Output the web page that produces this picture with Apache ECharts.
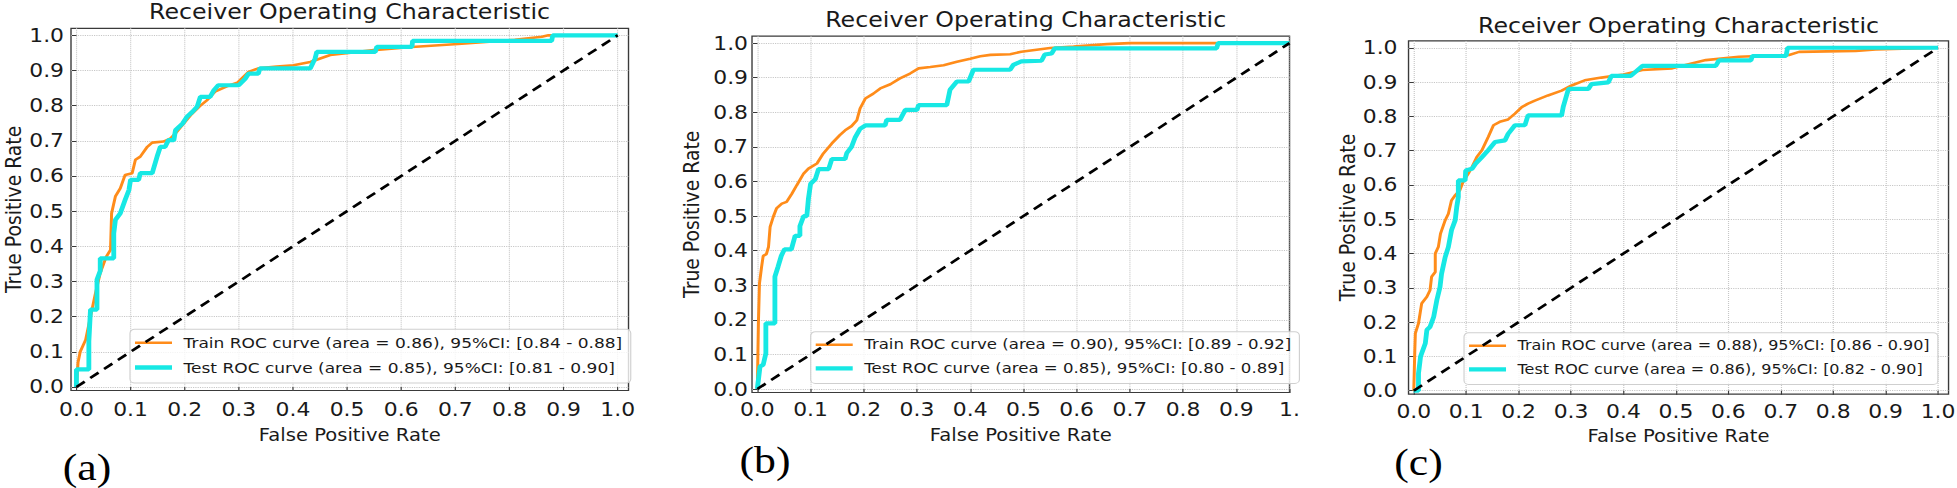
<!DOCTYPE html>
<html>
<head>
<meta charset="utf-8">
<script src="https://cdn.jsdelivr.net/npm/echarts@6.0.0/dist/echarts.min.js"></script>
<style>
  html, body { margin: 0; padding: 0; background: #fff; overflow: hidden; }
  /* the source figure is stretched sideways, so lay out narrower and widen */
  #chart { width: 1700px; height: 488px; transform: scaleX(1.1512); transform-origin: 0 0; }
</style>
</head>
<body>
<div id="chart"></div>
<script>
const S = 1957 / 1700;
const X = v => v / S;

const tickValues = [0, 0.1, 0.2, 0.3, 0.4, 0.5, 0.6, 0.7, 0.8, 0.9, 1.0];
const titleText = 'Receiver Operating Characteristic';
const xName = 'False Positive Rate';
const yName = 'True Positive Rate';
const panelTags = ['(a)', '(b)', '(c)'];
const trainLabels = [
  'Train ROC curve (area = 0.86), 95%CI: [0.84 - 0.88]',
  'Train ROC curve (area = 0.90), 95%CI: [0.89 - 0.92]',
  'Train ROC curve (area = 0.88), 95%CI: [0.86 - 0.90]'
];
const testLabels = [
  'Test ROC curve (area = 0.85), 95%CI: [0.81 - 0.90]',
  'Test ROC curve (area = 0.85), 95%CI: [0.80 - 0.89]',
  'Test ROC curve (area = 0.86), 95%CI: [0.82 - 0.90]'
];
const chance = [[0, 0], [1, 1]];

// [fpr, tpr]
const trainA = [[0,0],[0.003,0.07],[0.007,0.1],[0.017,0.134],[0.026,0.2],[0.035,0.265],[0.044,0.324],[0.055,0.37],[0.063,0.39],
  [0.065,0.494],[0.072,0.542],[0.081,0.565],[0.09,0.603],[0.103,0.608],[0.109,0.646],[0.118,0.655],[0.131,0.683],[0.14,0.695],
  [0.161,0.698],[0.174,0.707],[0.183,0.721],[0.196,0.745],[0.211,0.773],[0.229,0.8],[0.241,0.815],[0.257,0.841],[0.278,0.855],
  [0.297,0.865],[0.318,0.896],[0.336,0.906],[0.37,0.911],[0.401,0.915],[0.432,0.924],[0.469,0.944],[0.549,0.958],[0.62,0.967],
  [0.712,0.976],[0.81,0.987],[0.86,0.996],[0.872,1.0],[1,1]];
const testA = [[0,0],[0,0.05],[0.023,0.05],[0.023,0.13],[0.026,0.22],[0.038,0.22],[0.038,0.305],[0.044,0.33],[0.044,0.366],
  [0.069,0.366],[0.069,0.437],[0.072,0.475],[0.081,0.494],[0.09,0.532],[0.097,0.56],[0.1,0.589],[0.115,0.589],[0.118,0.608],
  [0.14,0.608],[0.149,0.655],[0.155,0.683],[0.164,0.683],[0.17,0.702],[0.18,0.702],[0.183,0.73],[0.196,0.749],[0.204,0.768],
  [0.214,0.782],[0.223,0.797],[0.229,0.825],[0.247,0.825],[0.254,0.844],[0.262,0.858],[0.3,0.858],[0.312,0.877],[0.318,0.891],
  [0.336,0.891],[0.339,0.906],[0.432,0.906],[0.441,0.934],[0.444,0.953],[0.552,0.953],[0.555,0.967],[0.62,0.967],[0.621,0.984],
  [0.878,0.984],[0.88,1.0],[1,1]];
const trainB = [[0,0],[0.002,0.19],[0.004,0.305],[0.008,0.353],[0.011,0.385],[0.017,0.39],[0.021,0.411],[0.024,0.469],[0.03,0.498],
  [0.036,0.522],[0.046,0.536],[0.055,0.541],[0.065,0.565],[0.074,0.589],[0.087,0.623],[0.096,0.637],[0.112,0.652],[0.124,0.681],
  [0.14,0.71],[0.155,0.734],[0.165,0.748],[0.177,0.76],[0.187,0.777],[0.193,0.811],[0.203,0.84],[0.218,0.854],[0.231,0.869],
  [0.25,0.881],[0.268,0.898],[0.287,0.912],[0.303,0.927],[0.325,0.931],[0.35,0.936],[0.375,0.946],[0.4,0.955],[0.419,0.962],
  [0.438,0.966],[0.475,0.968],[0.496,0.975],[0.55,0.986],[0.594,0.99],[0.657,0.997],[0.7,1.0],[1,1]];
const testB = [[0,0],[0.005,0.065],[0.011,0.07],[0.016,0.103],[0.016,0.19],[0.033,0.19],[0.033,0.325],[0.039,0.354],[0.045,0.385],
  [0.051,0.404],[0.064,0.404],[0.071,0.443],[0.08,0.443],[0.08,0.471],[0.087,0.5],[0.093,0.5],[0.096,0.55],[0.1,0.593],
  [0.109,0.607],[0.115,0.636],[0.134,0.636],[0.14,0.665],[0.165,0.665],[0.168,0.682],[0.177,0.7],[0.184,0.728],[0.193,0.752],
  [0.203,0.762],[0.24,0.762],[0.243,0.778],[0.268,0.778],[0.278,0.807],[0.3,0.807],[0.303,0.821],[0.356,0.821],[0.362,0.865],
  [0.375,0.889],[0.397,0.889],[0.406,0.923],[0.475,0.923],[0.481,0.937],[0.496,0.947],[0.534,0.949],[0.54,0.967],[0.553,0.97],
  [0.559,0.985],[0.863,0.985],[0.866,1.0],[1,1]];
const trainC = [[0,0],[0.002,0.119],[0.003,0.167],[0.009,0.196],[0.015,0.254],[0.025,0.274],[0.031,0.293],[0.034,0.332],
  [0.041,0.346],[0.041,0.4],[0.047,0.42],[0.051,0.458],[0.06,0.497],[0.066,0.516],[0.072,0.555],[0.079,0.57],[0.088,0.585],
  [0.094,0.609],[0.104,0.633],[0.111,0.652],[0.12,0.681],[0.13,0.701],[0.142,0.74],[0.152,0.774],[0.164,0.784],[0.18,0.791],
  [0.193,0.808],[0.206,0.827],[0.218,0.837],[0.231,0.846],[0.256,0.861],[0.282,0.875],[0.301,0.89],[0.326,0.905],[0.358,0.913],
  [0.4,0.922],[0.436,0.935],[0.493,0.94],[0.557,0.964],[0.62,0.974],[0.716,0.979],[0.735,0.988],[0.843,0.991],[0.881,0.995],[1,1]];
const testC = [[0,0],[0.009,0],[0.009,0.05],[0.013,0.1],[0.022,0.138],[0.025,0.177],[0.031,0.186],[0.038,0.215],[0.044,0.264],
  [0.05,0.302],[0.053,0.341],[0.06,0.39],[0.066,0.419],[0.072,0.468],[0.079,0.497],[0.082,0.536],[0.085,0.565],[0.085,0.613],
  [0.098,0.613],[0.099,0.642],[0.111,0.647],[0.118,0.662],[0.13,0.681],[0.142,0.701],[0.155,0.725],[0.174,0.73],[0.18,0.749],
  [0.193,0.774],[0.212,0.774],[0.218,0.803],[0.282,0.803],[0.285,0.827],[0.295,0.88],[0.333,0.88],[0.339,0.894],[0.371,0.899],
  [0.377,0.918],[0.414,0.918],[0.436,0.947],[0.576,0.947],[0.582,0.963],[0.643,0.963],[0.646,0.976],[0.71,0.976],[0.713,1.0],[1,1]];

const trainCurves = [trainA, trainB, trainC];
const testCurves = [testA, testB, testC];

const ORANGE = '#ff8c1a';
const CYAN = '#17e8e4';
const INK = '#1a1a1a';
const FONT = 'DejaVu Sans';
const TRAIN_ICON = 'path://M0 0H37V3H0Z';
const TEST_ICON = 'path://M0 0H37V5H0Z';

// panel boxes in page pixels (before the sideways stretch is undone)
const panels = [
  { L: 71, R: 628.5, T: 28.3, B: 390.5, xMax: 1.02, titleX: 349.5, titleY: 12, tagX: 87, tagY: 467,
    legL: 130, legT: 329.3, legFont: 14.8, xLabelGap: 10, yLabelGap: 7, xNameGap: 36, yNameGap: 46 },
  { L: 752, R: 1289.5, T: 36.2, B: 392.5, xMax: 1.0, titleX: 1025.7, titleY: 20, tagX: 765, tagY: 460,
    legL: 810.7, legT: 331.7, legFont: 14.4, xLabelGap: 8, yLabelGap: 4, xNameGap: 34, yNameGap: 50 },
  { L: 1408.5, R: 1948.5, T: 40.9, B: 394.1, xMax: 1.02, titleX: 1678.5, titleY: 26, tagX: 1418.5, tagY: 462,
    legL: 1464, legT: 332.7, legFont: 13.9, xLabelGap: 8, yLabelGap: 11, xNameGap: 33, yNameGap: 49 }
];

const grid = [], xAxis = [], yAxis = [], series = [], legend = [], graphic = [];

panels.forEach((p, i) => {
  grid.push({
    left: X(p.L), top: p.T, width: X(p.R - p.L), height: p.B - p.T,
    containLabel: false, outerBoundsMode: 'none',
    show: true, borderColor: '#3a3a3a', borderWidth: 1.2, backgroundColor: 'transparent'
  });
  const common = {
    gridIndex: i, type: 'value', min: -0.01, splitNumber: 10,
    axisLine: { show: false },
    axisTick: { show: true, customValues: tickValues, length: 4, lineStyle: { color: '#3a3a3a', width: 1 } },
    splitLine: { show: true, lineStyle: { type: 'dotted', color: '#c6c6c6', width: 1 } },
    nameLocation: 'middle'
  };
  xAxis.push(Object.assign({}, common, {
    max: p.xMax, name: xName, nameGap: p.xNameGap,
    nameTextStyle: { fontSize: 17, fontFamily: FONT, color: INK },
    axisLabel: { customValues: tickValues, fontSize: 19, fontFamily: FONT, color: INK, margin: p.xLabelGap,
      formatter: v => (i === 1 && v === 1 ? '1.' : v.toFixed(1)) }
  }));
  yAxis.push(Object.assign({}, common, {
    max: 1.02, name: yName, nameGap: X(p.yNameGap),
    nameTextStyle: { fontSize: 18.8, fontFamily: FONT, color: INK },
    axisLabel: { customValues: tickValues, fontSize: 19, fontFamily: FONT, color: INK, margin: X(p.yLabelGap),
      formatter: v => v.toFixed(1) }
  }));
  series.push({
    type: 'line', name: trainLabels[i], xAxisIndex: i, yAxisIndex: i, data: trainCurves[i],
    symbol: 'none', showSymbol: false, z: 3, silent: true, animation: false,
    lineStyle: { color: ORANGE, width: 2.6 }, itemStyle: { color: ORANGE }
  });
  series.push({
    type: 'line', name: testLabels[i], xAxisIndex: i, yAxisIndex: i, data: testCurves[i],
    symbol: 'none', showSymbol: false, z: 4, silent: true, animation: false,
    lineStyle: { color: CYAN, width: 4.2 }, itemStyle: { color: CYAN }
  });
  series.push({
    type: 'line', xAxisIndex: i, yAxisIndex: i, data: chance,
    symbol: 'none', z: 5, silent: true, animation: false,
    lineStyle: { color: '#000', width: 2.6, type: [9, 6] }
  });
  legend.push({
    orient: 'vertical', left: X(p.legL), top: p.legT, selectedMode: false,
    data: [
      { name: trainLabels[i], icon: TRAIN_ICON, itemStyle: { color: ORANGE } },
      { name: testLabels[i], icon: TEST_ICON, itemStyle: { color: CYAN } }
    ],
    itemWidth: X(37), itemHeight: 14, itemGap: 9.7,
    padding: [6, 7, 8, X(5)],
    backgroundColor: 'rgba(255,255,255,0.8)', borderColor: '#cfcfcf', borderWidth: 1, borderRadius: 4,
    textStyle: { fontSize: p.legFont, fontFamily: FONT, color: INK, padding: [0, 0, 0, 5] }
  });
  graphic.push({
    type: 'text', x: X(p.titleX), y: p.titleY, z: 10,
    style: { text: titleText, fontSize: 20.6, fontFamily: FONT, fill: INK, align: 'center', verticalAlign: 'middle' }
  });
  graphic.push({
    type: 'text', x: X(p.tagX), y: p.tagY, z: 10,
    style: { text: panelTags[i], fontSize: 38, fontFamily: 'Liberation Serif', fill: '#000', align: 'center', verticalAlign: 'middle' }
  });
});

const chart = echarts.init(document.getElementById('chart'), null, { renderer: 'svg' });
chart.setOption({
  backgroundColor: '#fff',
  animation: false,
  grid, xAxis, yAxis, series, legend, graphic
});
</script>
</body>
</html>
